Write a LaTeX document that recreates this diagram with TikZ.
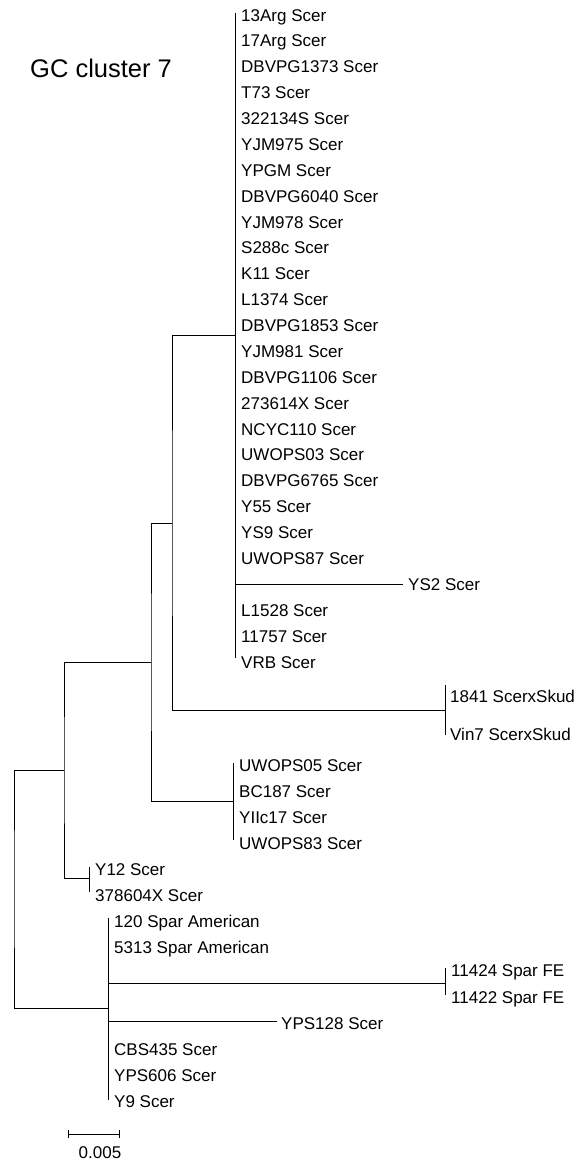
\documentclass[tikz,border=0pt]{standalone}
\usepackage{fontspec}
\setmainfont{Liberation Sans}
\begin{document}
\begin{tikzpicture}[x=1pt,y=-1pt,
  branch/.style={line width=1pt,black},
  leaf/.style={anchor=base west,inner sep=0pt,font=\fontsize{17}{20}\selectfont},
  title/.style={anchor=base west,inner sep=0pt,font=\fontsize{25.5}{30}\selectfont}]
\useasboundingbox (0,0) rectangle (580,1162);
% title
\node[title] (ttl) at (30,77) {GC cluster 7};
% internal vertices
\coordinate (big) at (235,335);
\coordinate (bigT) at (235,13);
\coordinate (bigB) at (235,658);
\coordinate (A) at (172,523);
\coordinate (sk) at (445,710);
\coordinate (skT) at (445,685);
\coordinate (skB) at (445,735);
\coordinate (B) at (151,662);
\coordinate (uw) at (233,801);
\coordinate (uwT) at (233,763);
\coordinate (uwB) at (233,840);
\coordinate (C) at (64,770);
\coordinate (y12) at (89,878);
\coordinate (y12T) at (89,867);
\coordinate (y12B) at (89,892);
\coordinate (R) at (14,889);
\coordinate (sp) at (108,1008);
\coordinate (spT) at (108,918);
\coordinate (spB) at (108,1100);
\coordinate (fe) at (445,983);
\coordinate (feT) at (445,968);
\coordinate (feB) at (445,995);
\coordinate (ys2) at (403,584);
\coordinate (yps) at (277,1021);
% branches
\draw[branch] (bigT) -- (bigB);
\draw[branch] (big) -| (A) |- (sk);
\draw[branch] (A) -| (B) |- (uw);
\draw[branch] (B) -| (C) |- (y12);
\draw[branch] (C) -| (R) |- (sp);
\draw[branch] (big |- ys2) -- (ys2);
\draw[branch] (skT) -- (skB);
\draw[branch] (uwT) -- (uwB);
\draw[branch] (y12T) -- (y12B);
\draw[branch] (spT) -- (spB);
\draw[branch] (sp |- fe) -- (fe);
\draw[branch] (feT) -- (feB);
\draw[branch] (sp |- yps) -- (yps);
% big clade leaves
\foreach \i/\t in {0/13Arg Scer,1/17Arg Scer,2/DBVPG1373 Scer,3/T73 Scer,4/322134S Scer,
  5/YJM975 Scer,6/YPGM Scer,7/DBVPG6040 Scer,8/YJM978 Scer,9/S288c Scer,10/K11 Scer,
  11/L1374 Scer,12/DBVPG1853 Scer,13/YJM981 Scer,14/DBVPG1106 Scer,15/273614X Scer,
  16/NCYC110 Scer,17/UWOPS03 Scer,18/DBVPG6765 Scer,19/Y55 Scer,20/YS9 Scer,
  21/UWOPS87 Scer,23/L1528 Scer,24/11757 Scer,25/VRB Scer}
  \node[leaf] (t\i) at (241,{21+25.88*\i}) {\t};
\node[leaf] (tys2) at (408,590) {YS2 Scer};
\node[leaf] (t1841) at (450,702) {1841 ScerxSkud};
\node[leaf] (tvin7) at (450,740) {Vin7 ScerxSkud};
\node[leaf] (tuw05) at (239,771) {UWOPS05 Scer};
\node[leaf] (tbc) at (239,797) {BC187 Scer};
\node[leaf] (tyii) at (239,823) {YIIc17 Scer};
\node[leaf] (tuw83) at (239,849) {UWOPS83 Scer};
\node[leaf] (ty12) at (95,875) {Y12 Scer};
\node[leaf] (t378) at (95,901) {378604X Scer};
\node[leaf] (t120) at (114,927) {120 Spar American};
\node[leaf] (t5313) at (114,953) {5313 Spar American};
\node[leaf] (t11424) at (451,976) {11424 Spar FE};
\node[leaf] (t11422) at (451,1003) {11422 Spar FE};
\node[leaf] (typs) at (281,1029) {YPS128 Scer};
\node[leaf] (tcbs) at (114,1055) {CBS435 Scer};
\node[leaf] (typs606) at (114,1081) {YPS606 Scer};
\node[leaf] (ty9) at (114,1107) {Y9 Scer};
% scale bar
\coordinate (sbL) at (68,1134);
\coordinate (sbR) at (119,1134);
\draw[branch] (sbL) -- (sbR);
\draw[branch] ([yshift=-4pt]sbL) -- ([yshift=4pt]sbL);
\draw[branch] ([yshift=-4pt]sbR) -- ([yshift=4pt]sbR);
\node[leaf,anchor=base] (sblab) at (100,1158) {0.005};
\end{tikzpicture}
\end{document}
